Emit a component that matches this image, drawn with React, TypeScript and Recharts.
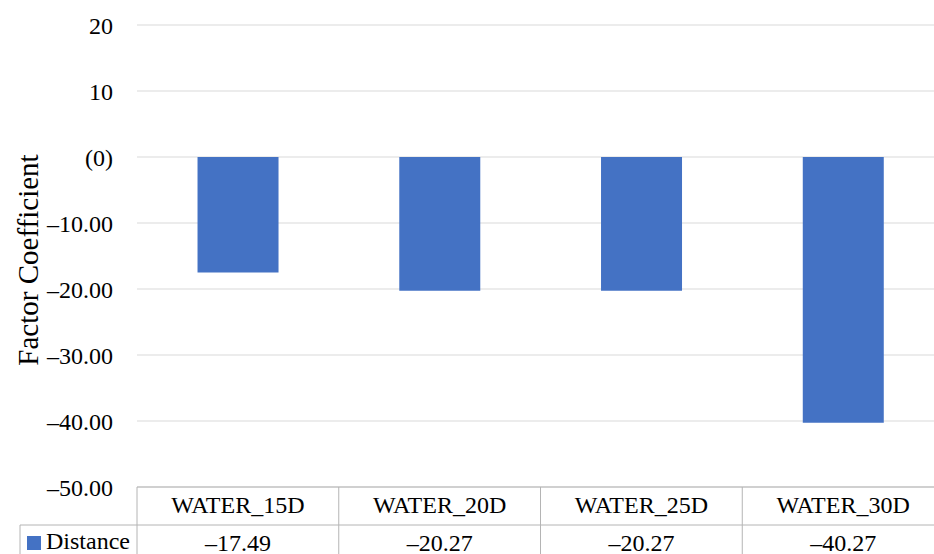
import React from 'react';
import { BarChart, Bar, XAxis, YAxis, CartesianGrid, Label } from 'recharts';

const categories = ['WATER_15D', 'WATER_20D', 'WATER_25D', 'WATER_30D'];
const distanceValues = [-17.49, -20.27, -20.27, -40.27];
const valueLabels = ['–17.49', '–20.27', '–20.27', '–40.27'];
const yTicks = [-50, -40, -30, -20, -10, 0, 10, 20];
const seriesName = 'Distance';

const data = categories.map((c, i) => ({ name: c, value: distanceValues[i], label: valueLabels[i] }));

const FONT = "'Liberation Serif', 'DejaVu Serif', serif";
const BLUE = '#4472C4';
const TABLE_LINE = '#b4b4b4';
const textStyle = { fontFamily: FONT, fontSize: 24 };

const fmtY = (v: number) => {
  if (v === 0) return '(0)';
  if (v > 0) return String(v);
  return '–' + Math.abs(v).toFixed(2);
};

const TableTick = (props: any) => {
  const { x, y, payload, index } = props;
  const half = payload.offset ?? 100;
  const left = x - half;
  const right = x + half;
  const rowH = 38;
  const bottom = y + 80;
  const d = data[index];
  return (
    <g>
      <line x1={right} y1={y} x2={right} y2={bottom} stroke={TABLE_LINE} strokeWidth={1} />
      {index === 0 && (
        <g>
          <line x1={left} y1={y} x2={left} y2={bottom} stroke={TABLE_LINE} strokeWidth={1} />
          <line x1={20} y1={y + rowH} x2={left} y2={y + rowH} stroke={TABLE_LINE} strokeWidth={1} />
          <line x1={20} y1={y + rowH} x2={20} y2={bottom} stroke={TABLE_LINE} strokeWidth={1} />
          <rect x={27} y={y + 49} width={14} height={14} fill={BLUE} />
          <text x={46} y={y + 62} style={textStyle} fill="#000">{seriesName}</text>
        </g>
      )}
      <line x1={left} y1={y + rowH} x2={right} y2={y + rowH} stroke={TABLE_LINE} strokeWidth={1} />
      <text x={x} y={y + 26} textAnchor="middle" style={textStyle} fill="#000">{payload.value}</text>
      <text x={x} y={y + 64} textAnchor="middle" style={textStyle} fill="#000">{d ? d.label : ''}</text>
    </g>
  );
};

export default function App() {
  return (
    <div style={{ position: 'absolute', left: 0, top: 0, width: 934, height: 554, overflow: 'hidden', background: '#fff', fontFamily: FONT }}>
      <BarChart
        width={944}
        height={554}
        data={data}
        margin={{ top: 25, right: 0, bottom: 0, left: 0 }}
        barCategoryGap="30%"
        style={{ fontFamily: FONT }}
      >
        <CartesianGrid vertical={false} stroke="#d9d9d9" />
        <XAxis
          dataKey="name"
          axisLine={{ stroke: TABLE_LINE }}
          tickLine={false}
          tickSize={0}
          tickMargin={0}
          height={67}
          interval={0}
          tick={<TableTick />}
        />
        <YAxis
          domain={[-50, 20]}
          ticks={yTicks}
          width={137}
          axisLine={false}
          tickLine={false}
          tickSize={0}
          tickMargin={24}
          tickFormatter={fmtY}
          tick={{ style: textStyle, fontFamily: FONT, fontSize: 24, fill: '#000' }}
          interval={0}
        >
          <Label
            content={() => (
              <text
                x={0}
                y={0}
                transform="translate(28 260) rotate(-90)"
                textAnchor="middle"
                dominantBaseline="central"
                style={{ fontFamily: FONT, fontSize: 29 }}
                fill="#000"
              >
                Factor Coefficient
              </text>
            )}
          />
        </YAxis>
        <Bar dataKey="value" fill={BLUE} isAnimationActive={false} />
      </BarChart>
    </div>
  );
}
